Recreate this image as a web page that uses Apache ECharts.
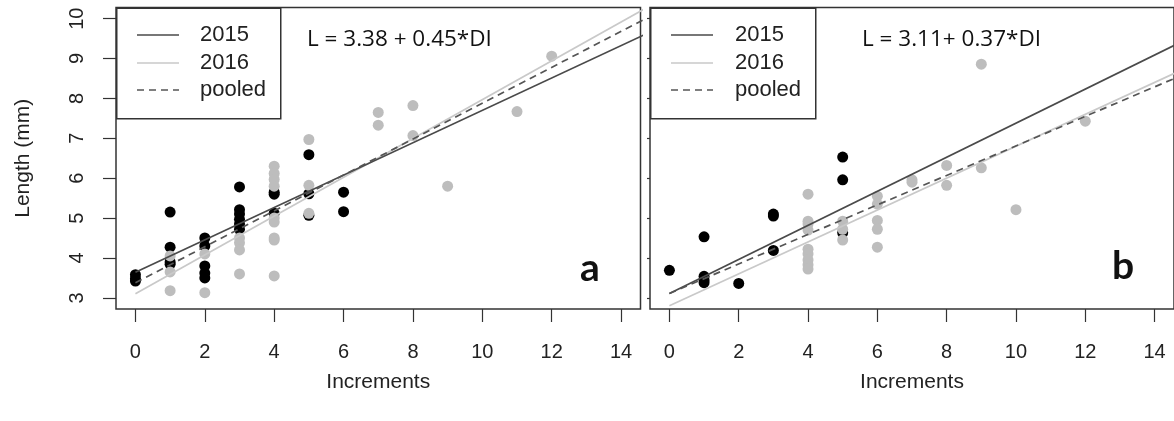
<!DOCTYPE html>
<html>
<head>
<meta charset="utf-8">
<title>Length vs increments</title>
<script src="https://cdn.jsdelivr.net/npm/echarts@6/dist/echarts.min.js"></script>
<style>
  html, body { margin: 0; padding: 0; background: #fff; }
  #chart { width: 1174px; height: 421px; }
</style>
</head>
<body>
<div id="chart"></div>
<script>
// Axis ticks shared by both panels
const xTicks = [0, 2, 4, 6, 8, 10, 12, 14];
const yTicks = [3, 4, 5, 6, 7, 8, 9, 10];

// Panel a: observations ([increments, length mm])
const a2015 = [
  [0, 3.58], [0, 3.48], [0, 3.42],
  [1, 5.15], [1, 4.27], [1, 3.9], [1, 3.84],
  [2, 4.5], [2, 4.3], [2, 3.8], [2, 3.62], [2, 3.5],
  [3, 5.78], [3, 5.21], [3, 5.1], [3, 4.97], [3, 4.85], [3, 4.72],
  [4, 5.65], [4, 5.6], [4, 5.12],
  [5, 6.59], [5, 5.61], [5, 5.07],
  [6, 5.65], [6, 5.16]
];
const a2016 = [
  [1, 4.05], [1, 3.65], [1, 3.18],
  [2, 4.1], [2, 3.13],
  [3, 4.5], [3, 4.38], [3, 4.2], [3, 3.6],
  [4, 6.3], [4, 6.12], [4, 5.97], [4, 5.8], [4, 5.0], [4, 4.9], [4, 4.5], [4, 4.45], [4, 3.55],
  [5, 6.97], [5, 5.82], [5, 5.12],
  [7, 7.65], [7, 7.33],
  [8, 7.82], [8, 7.07],
  [9, 5.8],
  [11, 7.67],
  [12, 9.06]
];
// Panel b: observations
const b2015 = [
  [0, 3.69],
  [1, 4.53], [1, 3.54], [1, 3.45], [1, 3.38],
  [2, 3.36],
  [3, 5.1], [3, 5.05], [3, 4.19],
  [5, 6.53], [5, 5.96], [5, 4.63]
];
const b2016 = [
  [4, 5.6], [4, 4.92], [4, 4.85], [4, 4.7], [4, 4.22], [4, 4.1], [4, 3.95], [4, 3.83], [4, 3.72],
  [5, 4.92], [5, 4.72], [5, 4.45],
  [6, 5.55], [6, 5.35], [6, 4.94], [6, 4.72], [6, 4.27],
  [7, 5.96], [7, 5.9],
  [8, 6.32], [8, 5.82],
  [9, 8.86], [9, 6.26],
  [10, 5.21],
  [12, 7.43]
];

// Fitted lines: [intercept, slope]
const fitA = { y2015: [3.64, 0.406], y2016: [3.10, 0.487], pooled: [3.38, 0.45] };
const fitB = { y2015: [3.11, 0.427], y2016: [2.80, 0.40], pooled: [3.11, 0.37] };

const equations = ['L = 3.38 + 0.45*DI', 'L = 3.11+ 0.37*DI'];
const panelTags = ['a', 'b'];
const legendNames = ['2015', '2016', 'pooled'];

const AXIS_FONT = '"Liberation Sans", Arial, sans-serif';
const NOTE_FONT = '"Open Sans", Lato, sans-serif';
const TAG_FONT = 'Lato, "Open Sans", sans-serif';
const C_DARK = '#4a4a4a', C_LIGHT = '#c9c9c9', C_POOL = '#555555';
const X_MIN = -0.56, X_MAX = 14.56, Y_MIN = 2.72, Y_MAX = 10.28;

function fitLine(coef) {
  const x1 = 15;
  return [[0, coef[0]], [x1, coef[0] + coef[1] * x1]];
}

const grids = [
  { left: 116, top: 7.5, width: 524.5, height: 301.5 },
  { left: 650, top: 7.5, width: 524.5, height: 301.5 }
].map(g => Object.assign(g, { show: true, borderColor: '#333', borderWidth: 1.5, backgroundColor: 'transparent', containLabel: false }));

const xAxes = [0, 1].map(i => ({
  gridIndex: i, type: 'value', min: X_MIN, max: X_MAX,
  axisLine: { show: false, onZero: false }, splitLine: { show: false },
  axisTick: { show: true, inside: false, length: 13, customValues: xTicks, lineStyle: { color: '#333', width: 1.2 } },
  axisLabel: { customValues: xTicks, fontSize: 20, color: '#222', fontFamily: AXIS_FONT, margin: 33 },
  name: 'Increments', nameLocation: 'middle', nameGap: 63,
  nameTextStyle: { fontSize: 21, color: '#222', fontFamily: AXIS_FONT }
}));

const yAxes = [
  {
    gridIndex: 0, type: 'value', min: Y_MIN, max: Y_MAX,
    axisLine: { show: false, onZero: false }, splitLine: { show: false },
    axisTick: { show: true, inside: false, length: 13, customValues: yTicks, lineStyle: { color: '#333', width: 1.2 } },
    axisLabel: { customValues: yTicks, fontSize: 20, color: '#222', fontFamily: AXIS_FONT, rotate: 90, margin: 29 },
    name: 'Length (mm)', nameLocation: 'middle', nameGap: 82, nameRotate: 90,
    nameTextStyle: { fontSize: 21, color: '#222', fontFamily: AXIS_FONT }
  },
  {
    gridIndex: 1, type: 'value', min: Y_MIN, max: Y_MAX,
    axisLine: { show: false, onZero: false }, splitLine: { show: false },
    axisTick: { show: true, inside: false, length: 3, customValues: yTicks, lineStyle: { color: '#333', width: 1.2 } },
    axisLabel: { show: false }
  }
];

function scatter(data, idx, color) {
  return {
    type: 'scatter', xAxisIndex: idx, yAxisIndex: idx, data: data,
    symbol: 'circle', symbolSize: 11, itemStyle: { color: color, opacity: 1 },
    silent: true
  };
}
function line(coef, idx, color, dashed) {
  return {
    type: 'line', xAxisIndex: idx, yAxisIndex: idx, data: fitLine(coef),
    symbol: 'none', clip: true, silent: true,
    lineStyle: { color: color, width: 1.7, type: dashed ? [7, 5] : 'solid' }
  };
}

const series = [];
[[a2015, a2016, fitA], [b2015, b2016, fitB]].forEach((p, i) => {
  series.push(scatter(p[0], i, '#000000'));
  series.push(scatter(p[1], i, '#bdbdbd'));
  series.push(line(p[2].y2016, i, C_LIGHT, false));
  series.push(line(p[2].y2015, i, C_DARK, false));
  series.push(line(p[2].pooled, i, C_POOL, true));
});

// Legend boxes, equations and panel tags
const graphics = [];
const legendBoxes = [
  { x: 116, w: 164, lx: 137, tx: 200 },
  { x: 650, w: 165, lx: 671, tx: 735 }
];
const legendRows = [35, 63, 90];
const legendStyles = [
  { stroke: C_DARK, lineDash: null },
  { stroke: C_LIGHT, lineDash: null },
  { stroke: C_POOL, lineDash: [7, 5] }
];
legendBoxes.forEach((b, i) => {
  graphics.push({
    type: 'rect', left: b.x, top: 7.5, z: 10,
    shape: { x: 0, y: 0, width: b.w, height: 110.5 },
    style: { fill: '#fff', stroke: '#333', lineWidth: 1.5 }
  });
  legendNames.forEach((n, k) => {
    graphics.push({
      type: 'line', z: 11,
      shape: { x1: b.lx, y1: legendRows[k], x2: b.lx + 42, y2: legendRows[k] },
      style: { stroke: legendStyles[k].stroke, lineWidth: 1.7, lineDash: legendStyles[k].lineDash }
    });
    graphics.push({
      type: 'text', z: 11, x: b.tx, y: legendRows[k],
      style: { text: n, font: '22px ' + AXIS_FONT, fill: '#222', textVerticalAlign: 'middle' }
    });
  });
});
[{ x: 307, i: 0 }, { x: 862, i: 1 }].forEach(e => {
  graphics.push({
    type: 'text', z: 11, x: e.x, y: 40,
    style: { text: equations[e.i], font: '22.5px ' + NOTE_FONT, fill: '#111', textVerticalAlign: 'middle' }
  });
});
[{ x: 580, y: 249, i: 0 }, { x: 1112, y: 247, i: 1 }].forEach(t => {
  graphics.push({
    type: 'text', z: 11, x: t.x, y: t.y,
    style: { text: panelTags[t.i], font: 'bold 39px ' + TAG_FONT, fill: '#111', textVerticalAlign: 'top' }
  });
});

const chart = echarts.init(document.getElementById('chart'), null, { renderer: 'canvas' });
chart.setOption({
  animation: false,
  backgroundColor: '#ffffff',
  grid: grids,
  xAxis: xAxes,
  yAxis: yAxes,
  series: series,
  graphic: graphics
});
</script>
</body>
</html>
